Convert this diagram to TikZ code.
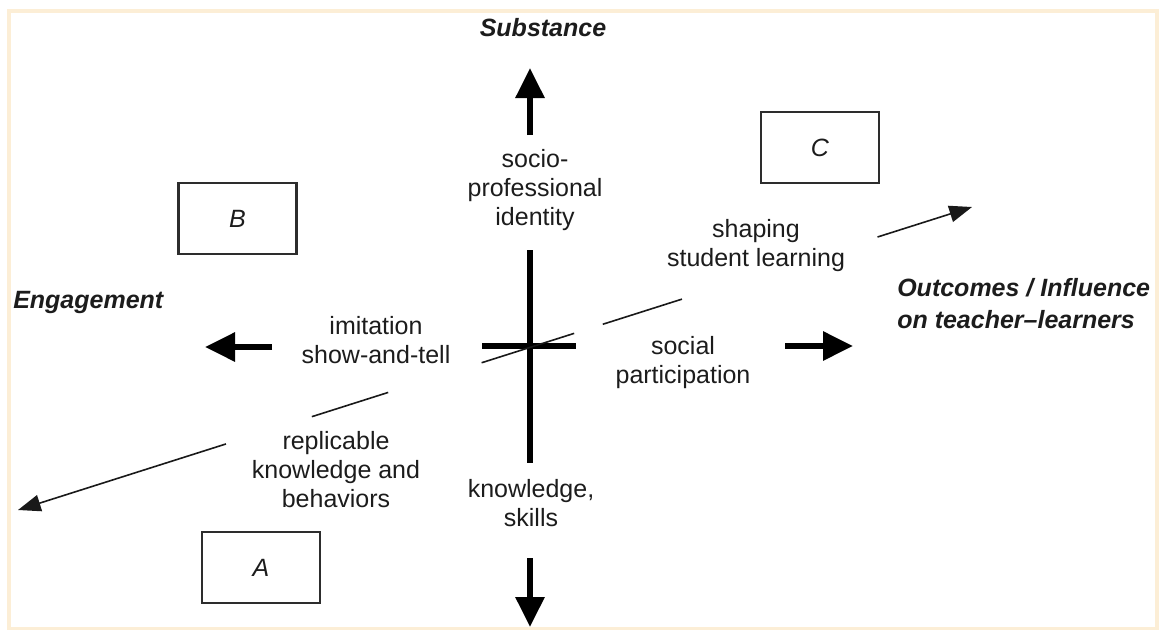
\documentclass[tikz,border=0pt]{standalone}
\usepackage{fontspec}
\setmainfont{Liberation Sans}
\usetikzlibrary{arrows.meta,calc}
\definecolor{ink}{RGB}{28,28,28}
\definecolor{boxline}{RGB}{45,45,45}
\definecolor{frame}{RGB}{252,238,214}
\tikzset{
  lbl/.style={inner sep=0pt,align=center,text=ink,
    font=\fontsize{18.75}{21.75}\selectfont},
  axislbl/.style={inner sep=0pt,text=ink,
    font=\fontsize{18.75}{24}\selectfont\bfseries\itshape},
  quad/.style={draw=boxline,line width=1.6pt,minimum width=88.5pt,
    minimum height=53pt,inner sep=0pt,text=ink,
    font=\fontsize{18.75}{21.75}\selectfont\itshape},
  bigarrow/.style={line width=4.5pt,draw=black,
    -{Triangle[length=22.5pt,width=21pt]}},
  bar/.style={line width=4.5pt,draw=black},
  diag/.style={line width=1.2pt,draw=black!90},
  diagtip/.style={-{Triangle[length=17pt,width=12.5pt]}}
}
\begin{document}
\begin{tikzpicture}[x=0.75pt,y=-0.75pt]
\useasboundingbox (0,0) rectangle (1162,629);
% cream frame
\draw[frame,line width=3pt] (9,11) rectangle (1157,629);

% central cross
\coordinate (vtop) at (530,250);
\coordinate (vbot) at (530,463);
\coordinate (hl) at (482,346);
\coordinate (hr) at (576,346);
\draw[bar] (vtop) -- (vbot);
\draw[bar] (hl) -- (hr);

% axis arrows
\coordinate (upS) at (530,135);  \coordinate (upT) at (530,68);
\coordinate (dnS) at (530,558);  \coordinate (dnT) at (530,627);
\coordinate (lfS) at (272,347);  \coordinate (lfT) at (205,347);
\coordinate (rtS) at (785,346);  \coordinate (rtT) at (853,346);
\draw[bigarrow] (upS) -- (upT);
\draw[bigarrow] (dnS) -- (dnT);
\draw[bigarrow] (lfS) -- (lfT);
\draw[bigarrow] (rtS) -- (rtT);

% broken diagonal line
\coordinate (dl) at (18,510);
\coordinate (dr) at (972,207);
\draw[diag,diagtip] ($(dl)!0.218!(dr)$) -- (dl);
\draw[diag] ($(dl)!0.308!(dr)$) -- ($(dl)!0.388!(dr)$);
\draw[diag] ($(dl)!0.486!(dr)$) -- ($(dl)!0.583!(dr)$);
\draw[diag] ($(dl)!0.613!(dr)$) -- ($(dl)!0.696!(dr)$);
\draw[diag,diagtip] ($(dl)!0.901!(dr)$) -- (dr);

% axis titles
\node[axislbl] (subst) at (543,28) {Substance};
\node[axislbl,anchor=west] (engage) at (13,302) {Engagement};
\node[axislbl,anchor=west,align=left] (outcome) at (897,304)
  {Outcomes / Influence\\on teacher\textendash learners};

% quadrant boxes
\node[quad] (B) at (237.5,218.5) {B};
\node[quad] (C) at (820,147.5) {C};
\node[quad] (A) at (261,567.5) {A};

% labels along the axes
\node[lbl] (identity) at (535,190) {socio-\\professional\\identity};
\node[lbl] (imitation) at (376,340) {imitation\\show-and-tell};
\node[lbl] (replic) at (336,470) {replicable\\knowledge and\\behaviors};
\node[lbl] (skills) at (531,503) {knowledge,\\skills};
\node[lbl] (shaping) at (756,246) {shaping\\student learning};
\node[lbl] (social) at (683,363) {social\\participation};
\end{tikzpicture}
\end{document}
